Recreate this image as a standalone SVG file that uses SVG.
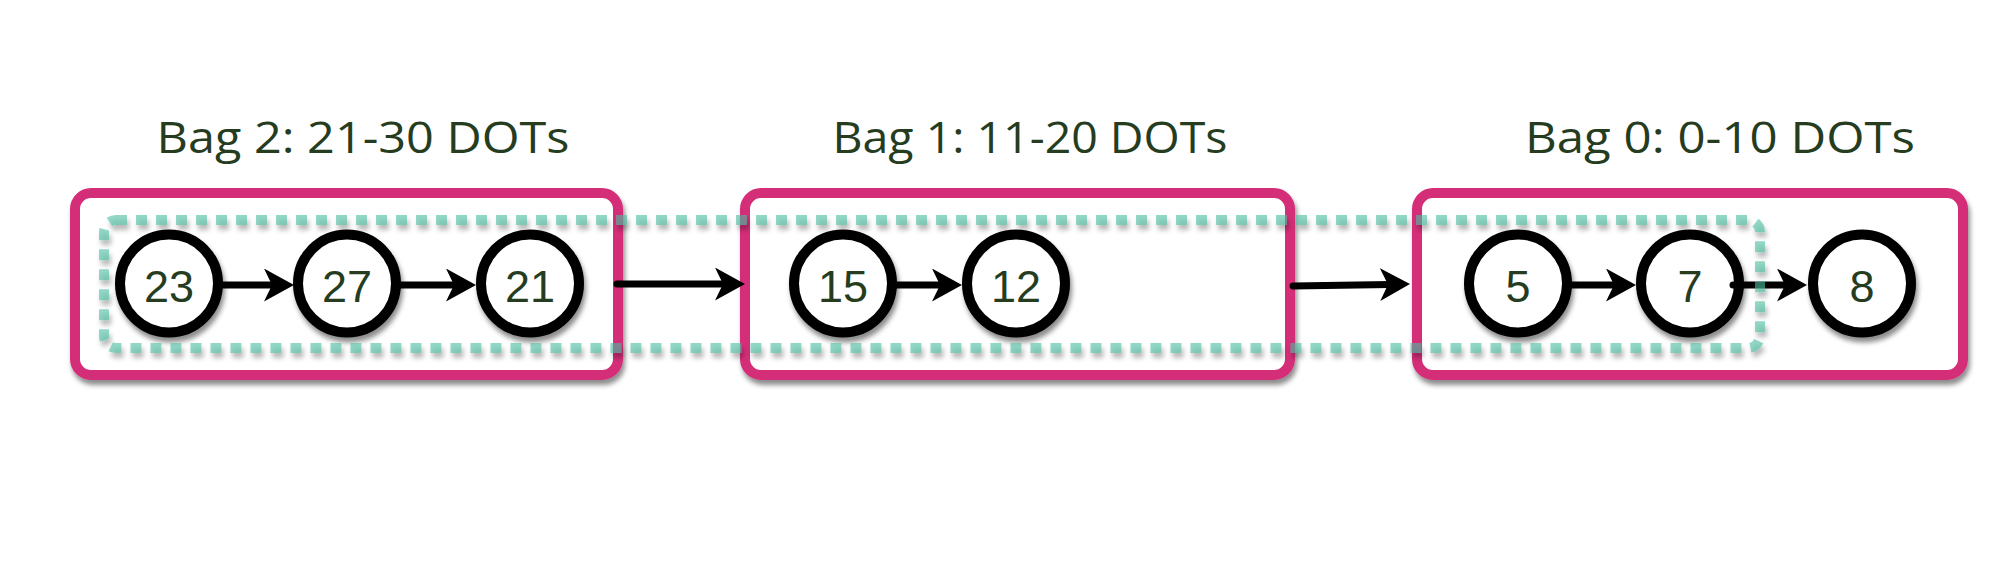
<svg xmlns="http://www.w3.org/2000/svg" width="1994" height="578" viewBox="0 0 1994 578">
<defs>
<filter id="sh" x="-20%" y="-20%" width="140%" height="150%">
<feDropShadow dx="2" dy="5" stdDeviation="2.5" flood-color="#000" flood-opacity="0.45"/>
</filter>
<marker id="ah" markerUnits="userSpaceOnUse" markerWidth="31" markerHeight="34" refX="10" refY="16.5" orient="auto" viewBox="0 0 31 34">
<path d="M0,0 L30,16.5 L0,33 L8,16.5 Z" fill="#000"/>
</marker>
<style>
.bag{fill:#fff;stroke:#D42E78;stroke-width:10;filter:url(#sh)}
.node{fill:#fff;stroke:#000;stroke-width:10;filter:url(#sh)}
.num{font-family:"Liberation Sans",Arial,sans-serif;font-size:45px;fill:#253C1F;text-anchor:middle}
.lbl{font-family:"Open Sans","Liberation Sans",sans-serif;font-size:44px;fill:#253C1F;text-anchor:middle}
.arr{stroke:#000;stroke-width:7;stroke-linecap:round;fill:none;marker-end:url(#ah)}
.dots{fill:none;stroke:#4DBDA0;stroke-opacity:0.6;stroke-width:10;stroke-dasharray:11 9;filter:url(#sh)}
</style>
</defs>
<rect width="1994" height="578" fill="#fff"/>
<g id="bag2">
<rect class="bag" x="75" y="193" width="543" height="182" rx="16"/>
<text class="lbl" x="363" y="153" textLength="413" lengthAdjust="spacingAndGlyphs">Bag 2: 21-30 DOTs</text>
</g>
<g id="bag1">
<rect class="bag" x="745" y="193" width="545" height="182" rx="16"/>
<text class="lbl" x="1030" y="153" textLength="395" lengthAdjust="spacingAndGlyphs">Bag 1: 11-20 DOTs</text>
</g>
<g id="bag0">
<rect class="bag" x="1417" y="193" width="546" height="182" rx="16"/>
<text class="lbl" x="1720" y="153" textLength="390" lengthAdjust="spacingAndGlyphs">Bag 0: 0-10 DOTs</text>
</g>
<g id="n23"><circle class="node" cx="169" cy="283.5" r="49"/><text class="num" x="169" y="302">23</text></g>
<g id="n27"><circle class="node" cx="347" cy="283.5" r="49"/><text class="num" x="347" y="302">27</text></g>
<g id="n21"><circle class="node" cx="530" cy="283.5" r="49"/><text class="num" x="530" y="302">21</text></g>
<g id="n15"><circle class="node" cx="843" cy="283.5" r="49"/><text class="num" x="843" y="302">15</text></g>
<g id="n12"><circle class="node" cx="1016" cy="283.5" r="49"/><text class="num" x="1016" y="302">12</text></g>
<g id="n5"><circle class="node" cx="1518" cy="283.5" r="49"/><text class="num" x="1518" y="302">5</text></g>
<g id="n7"><circle class="node" cx="1690" cy="283.5" r="49"/><text class="num" x="1690" y="302">7</text></g>
<g id="n8"><circle class="node" cx="1862" cy="283.5" r="49"/><text class="num" x="1862" y="302">8</text></g>
<g id="connectors">
<line class="arr" x1="223" y1="285" x2="274" y2="285"/>
<line class="arr" x1="401" y1="285" x2="456" y2="285"/>
<line class="arr" x1="617" y1="284" x2="725" y2="284"/>
<line class="arr" x1="897" y1="285" x2="942" y2="285"/>
<line class="arr" x1="1293" y1="286" x2="1390" y2="284.4"/>
<line class="arr" x1="1572" y1="285" x2="1616" y2="285"/>
<line class="arr" x1="1733" y1="285" x2="1787" y2="285"/>
</g>
<g id="group-outline">
<rect class="dots" x="104" y="220" width="1656" height="128" rx="12"/>
</g>
</svg>
